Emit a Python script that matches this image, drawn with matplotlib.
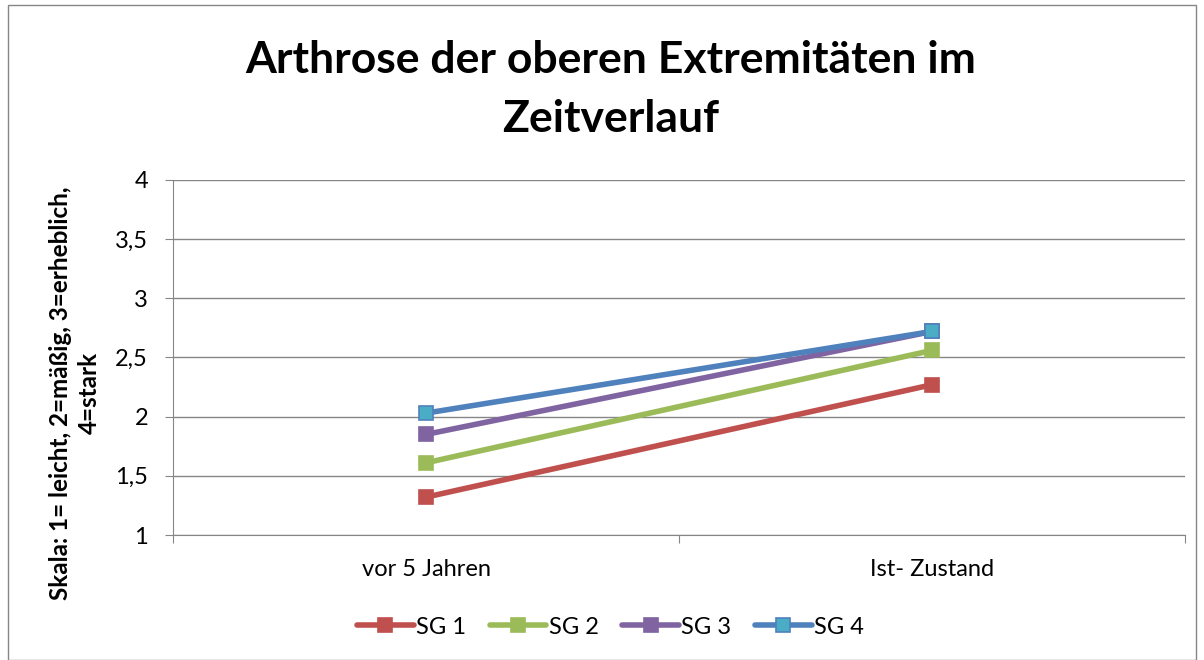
import matplotlib
matplotlib.use("Agg")
import matplotlib.pyplot as plt
from matplotlib.patches import Rectangle
from matplotlib.ticker import FixedLocator, NullFormatter, FixedFormatter

categories = ["vor 5 Jahren", "Ist- Zustand"]
series = ["SG 1", "SG 2", "SG 3", "SG 4"]
values = {
    "SG 1": [1.32, 2.27],
    "SG 2": [1.61, 2.56],
    "SG 3": [1.85, 2.72],
    "SG 4": [2.03, 2.72],
}
line_colors = ["#C0504D", "#9BBB59", "#8064A2", "#4F81BD"]
face_colors = ["#C0504D", "#9BBB59", "#8064A2", "#4BACC6"]
yticks = [1, 1.5, 2, 2.5, 3, 3.5, 4]
ytick_labels = ["1", "1,5", "2", "2,5", "3", "3,5", "4"]

plt.rcParams['font.family'] = ['Lato', 'DejaVu Sans']

fig = plt.figure(figsize=(12.04, 6.6), dpi=100)
ax = fig.add_axes([173 / 1204, 1 - 535 / 660, 1012 / 1204, 355 / 660])

x = list(range(len(categories)))
for name, lc, fc in zip(series, line_colors, face_colors):
    ax.plot(x, values[name], color=lc, lw=4, marker='s', ms=10.5,
            mfc=fc, mec=lc, mew=1.2, label=name, solid_capstyle='round', zorder=3)

ax.set_xlim(-0.5, len(categories) - 0.5)
ax.set_ylim(1, 4)
ax.set_yticks(yticks)
ax.set_yticklabels(ytick_labels, fontsize=17)
ax.yaxis.grid(True, color="#868686", lw=1)
ax.set_axisbelow(True)

ax.xaxis.set_major_locator(FixedLocator([-0.5, 0.5, 1.5]))
ax.xaxis.set_major_formatter(NullFormatter())
ax.xaxis.set_minor_locator(FixedLocator(x))
ax.xaxis.set_minor_formatter(FixedFormatter(categories))
ax.tick_params(axis='x', which='minor', length=0, labelsize=17, pad=17)
ax.tick_params(axis='x', which='major', length=6, color="#868686")
ax.tick_params(axis='y', length=6, color="#868686", pad=12)

for side in ["top", "right"]:
    ax.spines[side].set_visible(False)
for side in ["left", "bottom"]:
    ax.spines[side].set_color("#868686")

ax.set_ylabel("Skala: 1= leicht, 2=mäßig, 3=erheblich,\n4=stark",
              fontsize=17.5, fontweight='bold', labelpad=12, linespacing=1.3)
ax.yaxis.set_label_coords(-0.071, 0.4)

fig.text(0.507, 0.79, "Arthrose der oberen Extremitäten im\nZeitverlauf",
         ha='center', va='bottom', fontsize=32, fontweight='bold', linespacing=1.55)

fig.legend(loc='center', bbox_to_anchor=(0.507, 1 - 627 / 660), ncol=4,
           frameon=False, fontsize=17, handlelength=2.4, columnspacing=1.0,
           handletextpad=0.1)

fig.patches.append(Rectangle((8 / 1204, 0.0), 1188 / 1204, 1 - 5 / 660,
                             transform=fig.transFigure, fill=False,
                             edgecolor="#868686", lw=1))

fig.savefig("out.png", dpi=100)
